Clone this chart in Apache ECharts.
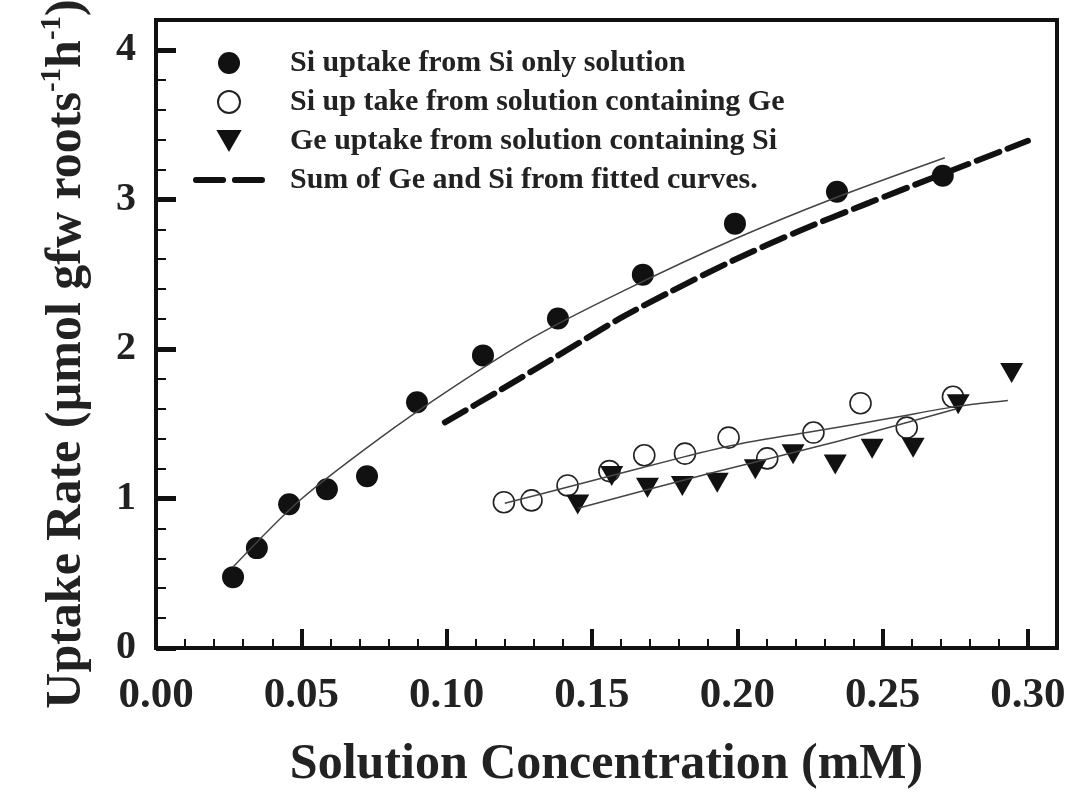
<!DOCTYPE html>
<html>
<head>
<meta charset="utf-8">
<script src="https://cdn.jsdelivr.net/npm/echarts@6/dist/echarts.min.js"></script>
<style>html,body{margin:0;padding:0;background:#fff}#main{width:1070px;height:796px}</style>
</head>
<body>
<div id="main"></div>
<script>
// Si uptake from Si only solution (filled circles)
var siOnlyX = [0.0265, 0.0347, 0.0458, 0.0588, 0.0726, 0.0898, 0.1125, 0.1383, 0.1675, 0.1992, 0.2343, 0.2707];
var siOnlyY = [0.474, 0.668, 0.962, 1.062, 1.149, 1.643, 1.957, 2.204, 2.497, 2.838, 3.052, 3.159];
// Si uptake with Ge (open circles)
var siGeX = [0.1197, 0.1292, 0.1416, 0.156, 0.168, 0.182, 0.197, 0.2103, 0.2262, 0.2424, 0.2583, 0.2742];
var siGeY = [0.975, 0.987, 1.087, 1.183, 1.289, 1.30, 1.407, 1.268, 1.441, 1.637, 1.474, 1.68];
// Ge uptake with Si (triangles)
var geSiX = [0.1451, 0.1568, 0.1691, 0.1811, 0.1931, 0.2062, 0.2192, 0.2337, 0.2464, 0.2605, 0.276, 0.2944];
var geSiY = [0.96, 1.15, 1.072, 1.083, 1.105, 1.195, 1.295, 1.228, 1.333, 1.34, 1.63, 1.84];

// fitted curves
var fitSiOnlyX = [0.0265, 0.0495, 0.0760, 0.1022, 0.1297, 0.1596, 0.1985, 0.2329, 0.2714];
var fitSiOnlyY = [0.541, 0.988, 1.389, 1.743, 2.077, 2.377, 2.730, 3.005, 3.279];
var fitSiGeX = [0.120, 0.1414, 0.181, 0.2019, 0.2239, 0.2525, 0.2755, 0.2931];
var fitSiGeY = [0.968, 1.075, 1.275, 1.369, 1.442, 1.536, 1.616, 1.656];
var fitGeSiX = [0.1452, 0.19, 0.235, 0.2755];
var fitGeSiY = [0.935, 1.165, 1.385, 1.60];
var sumX = [0.0994, 0.1183, 0.1355, 0.1596, 0.1758, 0.1985, 0.2215, 0.2446, 0.2673, 0.3000];
var sumY = [1.509, 1.723, 1.923, 2.204, 2.371, 2.591, 2.791, 2.972, 3.145, 3.392];

var xMajor = [0, 0.05, 0.10, 0.15, 0.20, 0.25, 0.30];
var yMajor = [0, 1, 2, 3, 4];

var names = [
    'Si uptake from Si only solution',
    'Si up take from solution containing Ge',
    'Ge uptake from solution containing Si',
    'Sum of Ge and Si from fitted curves.'
];

function zip(xs, ys) {
    var out = [];
    for (var i = 0; i < xs.length; i++) out.push([xs[i], ys[i]]);
    return out;
}
// minor ticks: 5 divisions between majors
function minors(major, step, max) {
    var out = [];
    for (var v = step; v < max - 1e-9; v += step) {
        var r = Math.round(v * 1000) / 1000;
        var isMajor = major.some(function (m) { return Math.abs(m - r) < 1e-6; });
        if (!isMajor) out.push(r);
    }
    return out;
}
var xMinor = minors(xMajor, 0.01, 0.31);
var yMinor = minors(yMajor, 0.2, 4.2);

var serif = 'Liberation Serif';
var tri = 'path://M0,0L23,0L11.5,20Z';
var dashIcon = 'path://M3,0h28a3,3 0 0 1 0,6h-28a3,3 0 0 1 0,-6zM43,0h28a3,3 0 0 1 0,6h-28a3,3 0 0 1 0,-6z';

var myChart = echarts.init(document.getElementById('main'));

option = {
    backgroundColor: '#fff',
    animation: false,
    grid: {
        left: 156, right: 13, top: 20, bottom: 148,
        show: true, borderColor: '#111', borderWidth: 4,
        outerBoundsMode: 'none'
    },
    legend: {
        data: [names[0], names[1], names[2], {name: names[3], icon: dashIcon, itemStyle: {color: '#111', borderWidth: 0}}],
        orient: 'vertical',
        left: 188, top: 43,
        itemWidth: 72, itemHeight: 22, itemGap: 9,
        textStyle: {fontFamily: serif, fontWeight: 'bold', fontSize: 30, lineHeight: 26, color: '#222', padding: [0, 0, 0, 20]}
    },
    xAxis: [{
        type: 'value', min: 0, max: 0.31,
        name: 'Solution Concentration (mM)', nameLocation: 'middle', nameGap: 92,
        nameTextStyle: {fontFamily: serif, fontWeight: 'bold', fontSize: 50, color: '#222'},
        axisLine: {show: true, onZero: false, lineStyle: {color: '#111', width: 4}},
        axisTick: {show: true, inside: true, length: 19, lineStyle: {color: '#111', width: 4}, customValues: xMajor},
        axisLabel: {customValues: xMajor, margin: 26, fontFamily: serif, fontWeight: 'bold', fontSize: 43, color: '#222',
            formatter: function (v) { return v.toFixed(2); }},
        splitLine: {show: false}
    }, {
        type: 'value', min: 0, max: 0.31, position: 'bottom',
        axisLine: {show: false},
        axisTick: {show: true, inside: true, length: 9, lineStyle: {color: '#111', width: 2}, customValues: xMinor},
        axisLabel: {show: false},
        splitLine: {show: false}
    }],
    yAxis: [{
        type: 'value', min: 0, max: 4.2,
        name: 'Uptake Rate (\u00b5mol gfw roots{s|-1}h{s|-1})', nameLocation: 'middle', nameGap: 60,
        nameTextStyle: {fontFamily: serif, fontWeight: 'bold', fontSize: 50, color: '#222', padding: [0, 40, 0, 0],
            rich: {s: {fontFamily: serif, fontWeight: 'bold', fontSize: 29, color: '#222', verticalAlign: 'top', lineHeight: 58}}},
        axisLine: {show: true, onZero: false, lineStyle: {color: '#111', width: 4}},
        axisTick: {show: true, inside: true, length: 20, lineStyle: {color: '#111', width: 5}, customValues: yMajor},
        axisLabel: {customValues: yMajor, margin: 20, fontFamily: serif, fontWeight: 'bold', fontSize: 40, color: '#222'},
        splitLine: {show: false}
    }, {
        type: 'value', min: 0, max: 4.2, position: 'left',
        axisLine: {show: false},
        axisTick: {show: true, inside: true, length: 10, lineStyle: {color: '#111', width: 2}, customValues: yMinor},
        axisLabel: {show: false},
        splitLine: {show: false}
    }],
    series: [{
        name: names[0], type: 'scatter', symbol: 'circle', symbolSize: 22,
        itemStyle: {color: '#111', opacity: 1},
        data: zip(siOnlyX, siOnlyY)
    }, {
        name: names[1], type: 'scatter', symbol: 'circle', symbolSize: 21,
        itemStyle: {color: 'rgba(255,255,255,0)', borderColor: '#222', borderWidth: 1.6, opacity: 1},
        data: zip(siGeX, siGeY)
    }, {
        name: names[2], type: 'scatter', symbol: tri, symbolSize: [23, 20],
        itemStyle: {color: '#111', opacity: 1},
        data: zip(geSiX, geSiY)
    }, {
        name: names[3], type: 'line', smooth: 0.3, showSymbol: false, symbol: 'none',
        itemStyle: {color: '#111'},
        lineStyle: {color: '#111', width: 6, type: [24, 9], cap: 'round'},
        data: zip(sumX, sumY)
    }, {
        name: 'fit1', type: 'line', smooth: 0.3, showSymbol: false, symbol: 'none',
        lineStyle: {color: '#444', width: 1.5},
        data: zip(fitSiOnlyX, fitSiOnlyY)
    }, {
        name: 'fit2', type: 'line', smooth: 0.3, showSymbol: false, symbol: 'none',
        lineStyle: {color: '#444', width: 1.5},
        data: zip(fitSiGeX, fitSiGeY)
    }, {
        name: 'fit3', type: 'line', smooth: 0.3, showSymbol: false, symbol: 'none',
        lineStyle: {color: '#444', width: 1.5},
        data: zip(fitGeSiX, fitGeSiY)
    }]
};

myChart.setOption(option);
</script>
</body>
</html>
